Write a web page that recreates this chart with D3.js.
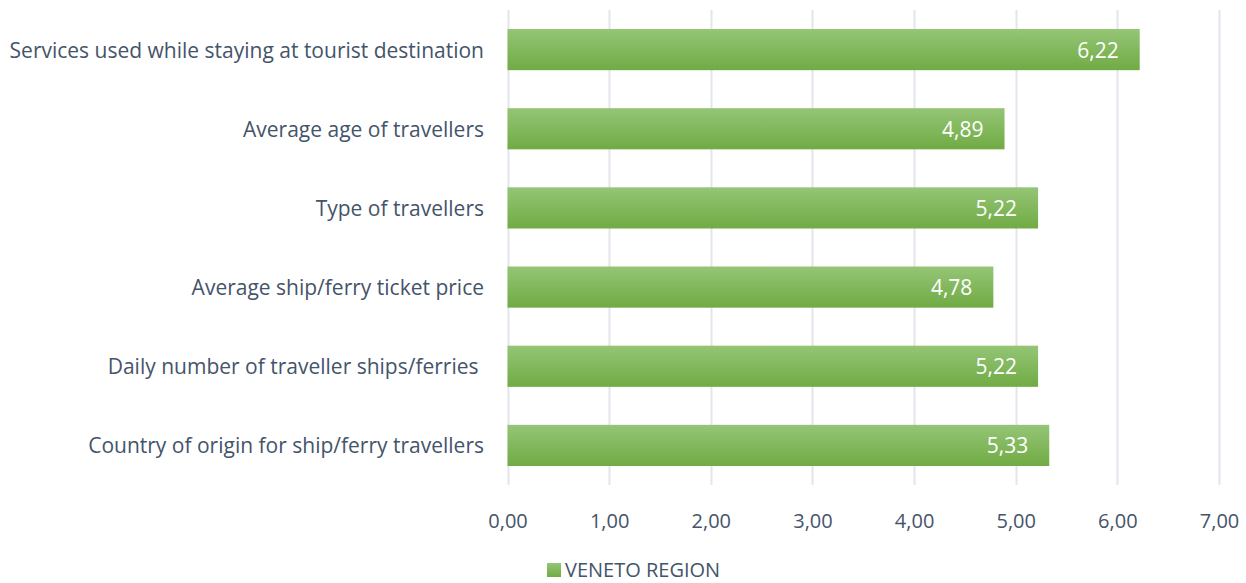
<!DOCTYPE html>
<html>
<head>
<meta charset="utf-8">
<script src="https://cdn.jsdelivr.net/npm/d3@7"></script>
<style>
  html, body { margin: 0; padding: 0; background: #fff; }
  svg text { font-family: "Open Sans", Lato, sans-serif; }
</style>
</head>
<body>
<svg id="chart" width="1246" height="583"></svg>
<script>
const categories = [
  "Services used while staying at tourist destination",
  "Average age of travellers",
  "Type of travellers",
  "Average ship/ferry ticket price",
  "Daily number of traveller ships/ferries ",
  "Country of origin for ship/ferry travellers"
];
const values = [6.22, 4.89, 5.22, 4.78, 5.22, 5.33];
const tickValues = [0, 1, 2, 3, 4, 5, 6, 7];
const seriesName = "VENETO REGION";

const fmt = v => v.toFixed(2).replace(".", ",");
const textColor = "#44546a";

const svg = d3.select("#chart");

const x = d3.scaleLinear().domain([0, 7]).range([507.5, 1219]);
const y = d3.scaleBand().domain(categories).range([10, 485])
  .paddingInner(0.48).paddingOuter(0.24);

const defs = svg.append("defs");
const grad = defs.append("linearGradient")
  .attr("id", "barGrad").attr("x1", 0).attr("y1", 0).attr("x2", 0).attr("y2", 1);
grad.append("stop").attr("offset", "0%").attr("stop-color", "#95c576");
grad.append("stop").attr("offset", "100%").attr("stop-color", "#70ab44");

// vertical gridlines
svg.append("g")
  .selectAll("line")
  .data(tickValues)
  .join("line")
  .attr("x1", d => Math.round(x(d)) + 0.5)
  .attr("x2", d => Math.round(x(d)) + 0.5)
  .attr("y1", 10).attr("y2", 485)
  .attr("stroke", "#e1e5ec").attr("stroke-width", 2);

// x-axis tick labels
const xAxis = d3.axisBottom(x).tickValues(tickValues).tickFormat(fmt).tickSize(0).tickPadding(0);
const gx = svg.append("g").attr("transform", "translate(0,510)").call(xAxis);
gx.select(".domain").remove();
gx.selectAll("text")
  .attr("fill", textColor)
  .style("font-size", "20px")
  .attr("dy", "0.9em");

// y-axis category labels
const yAxis = d3.axisLeft(y).tickSize(0).tickPadding(0);
const gy = svg.append("g").attr("transform", "translate(484,0)").call(yAxis);
gy.select(".domain").remove();
gy.selectAll("text")
  .attr("fill", textColor)
  .style("font-size", "21px")
  .style("white-space", "pre")
  .attr("dy", "0.38em");

// bars
svg.append("g")
  .selectAll("rect")
  .data(values)
  .join("rect")
  .attr("x", x(0))
  .attr("y", (d, i) => y(categories[i]))
  .attr("width", d => x(d) - x(0))
  .attr("height", y.bandwidth())
  .attr("fill", "url(#barGrad)");

// value labels
svg.append("g")
  .selectAll("text")
  .data(values)
  .join("text")
  .attr("x", d => x(d) - 21)
  .attr("y", (d, i) => y(categories[i]) + y.bandwidth() / 2)
  .attr("dy", "0.38em")
  .attr("text-anchor", "end")
  .attr("fill", "#ffffff")
  .style("font-size", "21px")
  .text(fmt);

// legend
const legend = svg.append("g").attr("transform", "translate(547,563)");
legend.append("rect").attr("width", 14).attr("height", 14).attr("fill", "url(#barGrad)");
legend.append("text")
  .attr("x", 18).attr("y", 14)
  .attr("fill", textColor)
  .style("font-size", "20px")
  .text(seriesName);
</script>
</body>
</html>
